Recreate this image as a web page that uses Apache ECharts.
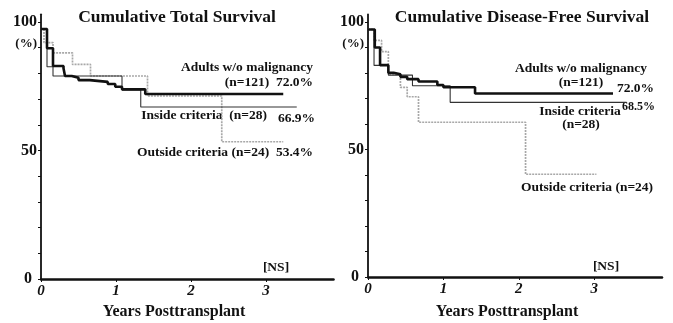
<!DOCTYPE html>
<html>
<head>
<meta charset="utf-8">
<script src="https://cdn.jsdelivr.net/npm/echarts@6/dist/echarts.min.js"></script>
<style>
  html, body { margin: 0; padding: 0; background: #fff; }
  #chart { width: 673px; height: 323px; }
</style>
</head>
<body>
<div id="chart"></div>
<script>
// Kaplan-Meier estimates: time of each step (years) and survival after the step (%)
const yearTicks = [0, 1, 2, 3];
const pctTicks = [0, 10, 20, 30, 40, 50, 60, 70, 80, 90, 100];
const pctLabels = [0, 50, 100];

// Cumulative total survival
const adultsOS_t = [0, 0.08, 0.16, 0.30, 0.32, 0.41, 0.50, 0.65, 0.89, 0.99, 1.08, 1.39, 3.23];
const adultsOS_s = [97.3, 89.8, 82.9, 82.0, 79.0, 78.3, 77.4, 76.7, 75.9, 74.8, 73.8, 72.0, 72.0];
const insideOS_t = [0, 0.08, 0.16, 1.08, 1.33, 3.41];
const insideOS_s = [97.3, 82.6, 79.0, 73.6, 66.9, 66.9];
const outsideOS_t = [0, 0.04, 0.16, 0.42, 0.66, 1.42, 2.41, 3.23];
const outsideOS_s = [97.3, 92.0, 88.0, 83.5, 79.0, 71.2, 53.4, 53.4];

// Cumulative disease-free survival
const adultsDFS_t = [0, 0.09, 0.16, 0.27, 0.34, 0.43, 0.52, 0.67, 0.92, 1.00, 1.42, 3.25];
const adultsDFS_s = [97.1, 90.0, 83.1, 80.1, 79.5, 78.5, 77.6, 76.7, 75.3, 74.4, 72.0, 72.0];
const insideDFS_t = [0, 0.08, 0.27, 0.59, 1.09, 3.43];
const insideDFS_s = [97.1, 83.0, 79.2, 75.0, 68.5, 68.5];
const outsideDFS_t = [0, 0.08, 0.18, 0.27, 0.43, 0.52, 0.67, 2.09, 3.03];
const outsideDFS_s = [97.1, 92.8, 88.4, 79.5, 74.4, 70.7, 60.7, 40.3, 40.3];

const zip = (t, s) => t.map((x, i) => [x, s[i]]);

const SERIF = '"Liberation Serif", "Times New Roman", serif';
const INK = '#111';

function xAxisFor(gridIndex) {
  return {
    type: 'value', gridIndex, min: 0, max: 3.9, interval: 1,
    axisLine: { lineStyle: { color: INK, width: 2.5 } },
    axisTick: { length: 3, lineStyle: { color: INK, width: 1 }, customValues: yearTicks },
    axisLabel: {
      customValues: yearTicks, margin: 5,
      color: INK, fontFamily: SERIF, fontSize: 15, fontWeight: 'bold', fontStyle: 'italic'
    },
    splitLine: { show: false }
  };
}
function yAxisFor(gridIndex) {
  const font = { color: INK, fontFamily: SERIF, fontSize: 16, fontWeight: 'bold' };
  return {
    type: 'value', gridIndex, min: 0, max: 103,
    axisLine: { show: true, lineStyle: { color: INK, width: 1.8 } },
    axisTick: { show: true, length: 3, lineStyle: { color: INK, width: 1 }, customValues: pctTicks },
    axisLabel: Object.assign({
      customValues: pctLabels, margin: 4,
      formatter: v => (v === 0 ? '{z|0}' : String(v)),
      rich: { z: Object.assign({ padding: [0, 5, 0, 0] }, font) }
    }, font),
    splitLine: { show: false }
  };
}
function km(name, t, s, idx, kind) {
  const styles = {
    adults: { color: '#111', width: 2.6, type: 'solid' },
    inside: { color: '#333', width: 1.1, type: 'solid' },
    outside: { color: '#a8a8a8', width: 1.7, type: [2, 1] }
  };
  return {
    type: 'line', name, xAxisIndex: idx, yAxisIndex: idx,
    step: 'end', data: zip(t, s), showSymbol: false, symbol: 'none',
    lineStyle: styles[kind], z: kind === 'adults' ? 4 : (kind === 'inside' ? 3 : 2),
    animation: false, silent: true
  };
}

function txt(x, y, text, align, size) {
  return {
    type: 'text', x, y,
    style: {
      text, fill: INK, font: 'bold ' + (size || 13.5) + 'px ' + SERIF,
      textAlign: align || 'left', textVerticalAlign: 'middle'
    }
  };
}

const chart = echarts.init(document.getElementById('chart'), null, { renderer: 'canvas' });
chart.setOption({
  animation: false,
  backgroundColor: '#fff',
  grid: [
    { left: 41, top: 14.3, width: 292.5, bottom: 44 },
    { left: 368, top: 14.4, width: 294, bottom: 46 }
  ],
  xAxis: [xAxisFor(0), xAxisFor(1)],
  yAxis: [yAxisFor(0), yAxisFor(1)],
  series: [
    km('Outside criteria', outsideOS_t, outsideOS_s, 0, 'outside'),
    km('Inside criteria', insideOS_t, insideOS_s, 0, 'inside'),
    km('Adults w/o malignancy', adultsOS_t, adultsOS_s, 0, 'adults'),
    km('Outside criteria', outsideDFS_t, outsideDFS_s, 1, 'outside'),
    km('Inside criteria', insideDFS_t, insideDFS_s, 1, 'inside'),
    km('Adults w/o malignancy', adultsDFS_t, adultsDFS_s, 1, 'adults')
  ],
  graphic: [
    txt(177, 17, 'Cumulative Total Survival', 'center', 17.5),
    txt(522, 17, 'Cumulative Disease-Free Survival', 'center', 17.5),
    txt(37, 44, '(%)', 'right', 13),
    txt(364, 44, '(%)', 'right', 13),
    txt(174, 312, 'Years Posttransplant', 'center', 16),
    txt(507, 312, 'Years Posttransplant', 'center', 16),
    txt(276, 268, '[NS]', 'center', 13.5),
    txt(606, 267, '[NS]', 'center', 13.5),

    txt(313, 68, 'Adults w/o malignancy', 'right'),
    txt(313, 83, '(n=121)  72.0%', 'right'),
    txt(267, 116, 'Inside criteria  (n=28)', 'right'),
    txt(315, 119, '66.9%', 'right'),
    txt(313, 153, 'Outside criteria (n=24)  53.4%', 'right'),

    txt(647, 69, 'Adults w/o malignancy', 'right'),
    txt(581, 83, '(n=121)', 'center'),
    txt(654, 89, '72.0%', 'right'),
    txt(580, 112, 'Inside criteria', 'center'),
    txt(581, 125, '(n=28)', 'center'),
    txt(655, 107, '68.5%', 'right', 12),
    txt(587, 188, 'Outside criteria (n=24)', 'center')
  ]
});
</script>
</body>
</html>
